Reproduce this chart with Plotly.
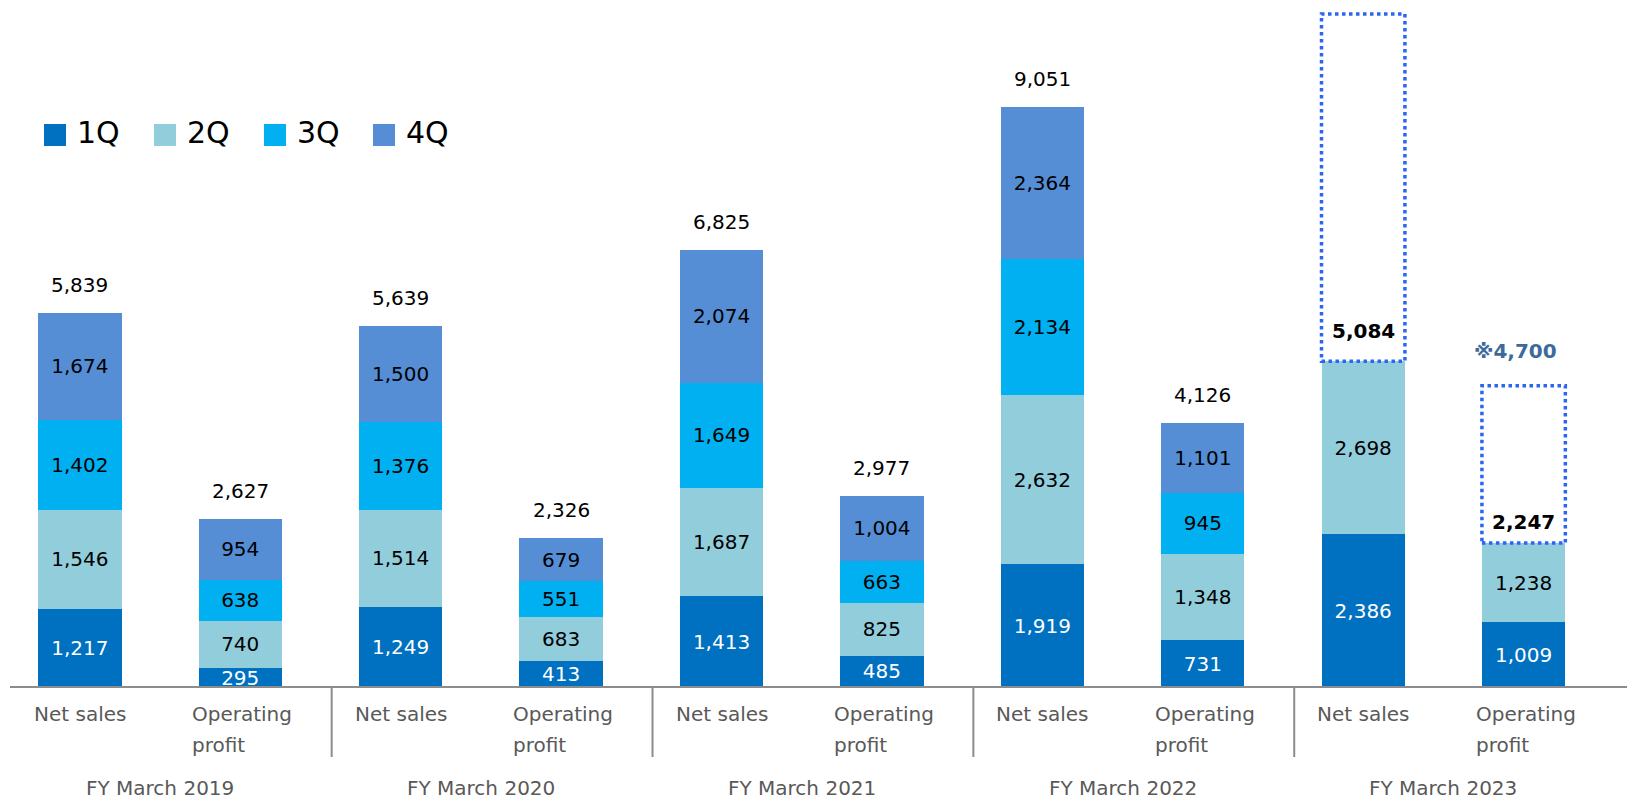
import plotly.graph_objects as go

# ---- data -----------------------------------------------------------------
fiscal_years = ["FY March 2019", "FY March 2020", "FY March 2021",
                "FY March 2022", "FY March 2023"]
metric_lines = [["Net sales"], ["Operating", "profit"]]

quarters = ["1Q", "2Q", "3Q", "4Q"]
quarter_colors = ["#0070C0", "#92CDDC", "#00B0F0", "#558ED5"]
quarter_text_colors = ["#FFFFFF", "#000000", "#000000", "#000000"]

# one value per bar: Net sales / Operating profit for each fiscal year (100M yen)
q1 = [1217, 295, 1249, 413, 1413, 485, 1919, 731, 2386, 1009]
q2 = [1546, 740, 1514, 683, 1687, 825, 2632, 1348, 2698, 1238]
q3 = [1402, 638, 1376, 551, 1649, 663, 2134, 945, None, None]
q4 = [1674, 954, 1500, 679, 2074, 1004, 2364, 1101, None, None]
annual_totals = [5839, 2627, 5639, 2326, 6825, 2977, 9051, 4126]

# FY March 2023: first-half results and full-year forecast
ytd_2023 = [5084, 2247]
forecast_2023 = [10500, 4700]
forecast_labels = ["", "※4,700"]

# ---- geometry ----------------------------------------------------------------
W, H = 1630, 799
BOTTOM = 112                       # px below the baseline
PLOT_H = H - BOTTOM
X_RANGE = [-0.4974, 9.663]
Y_MAX = 10718
BAR_W = 0.52

quarter_values = [q1, q2, q3, q4]
n_bars = len(q1)
xs = list(range(n_bars))


def px_to_paper_x(px):
    return px / W


def px_to_paper_y(py):
    return (PLOT_H - py) / PLOT_H


def pos_to_paper_x(pos):
    return (pos - X_RANGE[0]) / (X_RANGE[1] - X_RANGE[0])


FONT = "DejaVu Sans"
fig = go.Figure()

# stacked quarterly bars
for q, vals, col, tcol in zip(quarters, quarter_values, quarter_colors,
                              quarter_text_colors):
    fig.add_trace(go.Bar(
        x=xs, y=vals, name=q, width=BAR_W,
        marker=dict(color=col, line=dict(width=0)),
        text=[f"{v:,}" if v is not None else "" for v in vals],
        textposition="inside", insidetextanchor="middle", textangle=0,
        textfont=dict(family=FONT, size=20, color=tcol),
        showlegend=False, hoverinfo="skip", cliponaxis=False,
    ))

annotations = []
shapes = []

# annual totals above the completed years
for i, total in enumerate(annual_totals):
    annotations.append(dict(
        x=xs[i], y=total, xref="x", yref="y", text=f"{total:,}",
        showarrow=False, yanchor="bottom", yshift=14,
        font=dict(family=FONT, size=20, color="#000000")))

# forecast boxes for FY March 2023
label_shift = [16, 7]
for k, (ytd, fc) in enumerate(zip(ytd_2023, forecast_2023)):
    i = n_bars - 2 + k
    shapes.append(dict(
        type="rect", xref="x", yref="y",
        x0=xs[i] - BAR_W / 2, x1=xs[i] + BAR_W / 2, y0=ytd, y1=fc,
        line=dict(color="#2A66F2", width=3.5, dash="dot"),
        fillcolor="rgba(0,0,0,0)", layer="above"))
    annotations.append(dict(
        x=xs[i], y=ytd, xref="x", yref="y", text=f"<b>{ytd:,}</b>",
        showarrow=False, yanchor="bottom", yshift=label_shift[k],
        font=dict(family=FONT, size=20, color="#000000")))
    if forecast_labels[k]:
        annotations.append(dict(
            x=xs[i], y=fc, xref="x", yref="y",
            text=f"<b>{forecast_labels[k]}</b>",
            showarrow=False, yanchor="bottom", yshift=21, xshift=-8,
            font=dict(family=FONT, size=20, color="#3D6A9C")))

# baseline and group separators
shapes.append(dict(
    type="line", xref="paper", yref="paper",
    x0=px_to_paper_x(10), x1=px_to_paper_x(1627), y0=0, y1=0,
    line=dict(color="#8C8C8C", width=2), layer="above"))
for g in range(len(fiscal_years) - 1):
    sx = pos_to_paper_x(2 * g + 1.57)
    shapes.append(dict(
        type="line", xref="paper", yref="paper",
        x0=sx, x1=sx, y0=0, y1=px_to_paper_y(PLOT_H + 70),
        line=dict(color="#8C8C8C", width=2)))

# category labels (multi-line labels share a left edge)
for i in xs:
    lines = metric_lines[i % 2]
    for j, line in enumerate(lines):
        label = dict(
            x=xs[i], y=px_to_paper_y(PLOT_H + 27 + 31 * j),
            xref="x", yref="paper", text=line, showarrow=False,
            yanchor="middle", font=dict(family=FONT, size=20, color="#595959"))
        if len(lines) > 1:
            label.update(xanchor="left", xshift=-50)
        annotations.append(label)
for g, fy in enumerate(fiscal_years):
    annotations.append(dict(
        x=2 * g + 0.5, y=px_to_paper_y(PLOT_H + 101),
        xref="x", yref="paper", text=fy, showarrow=False,
        yanchor="middle", font=dict(family=FONT, size=20, color="#595959")))

# legend
leg_sq_x = [44, 154, 264, 373]
for q, col, sx in zip(quarters, quarter_colors, leg_sq_x):
    shapes.append(dict(
        type="rect", xref="paper", yref="paper",
        x0=px_to_paper_x(sx), x1=px_to_paper_x(sx + 22),
        y0=px_to_paper_y(146), y1=px_to_paper_y(124),
        line=dict(width=0), fillcolor=col))
    annotations.append(dict(
        x=px_to_paper_x(sx + 31), y=px_to_paper_y(132),
        xref="paper", yref="paper", text=q, showarrow=False,
        xanchor="left", yanchor="middle",
        font=dict(family=FONT, size=30, color="#000000")))

fig.update_layout(
    width=W, height=H,
    margin=dict(l=0, r=0, t=0, b=BOTTOM, pad=0),
    barmode="stack",
    plot_bgcolor="#FFFFFF", paper_bgcolor="#FFFFFF",
    xaxis=dict(range=X_RANGE, visible=False, fixedrange=True),
    yaxis=dict(range=[0, Y_MAX], visible=False, fixedrange=True),
    uniformtext=dict(minsize=20, mode="show"),
    shapes=shapes, annotations=annotations,
    hovermode=False, showlegend=False,
)

fig.write_html("out.html")
